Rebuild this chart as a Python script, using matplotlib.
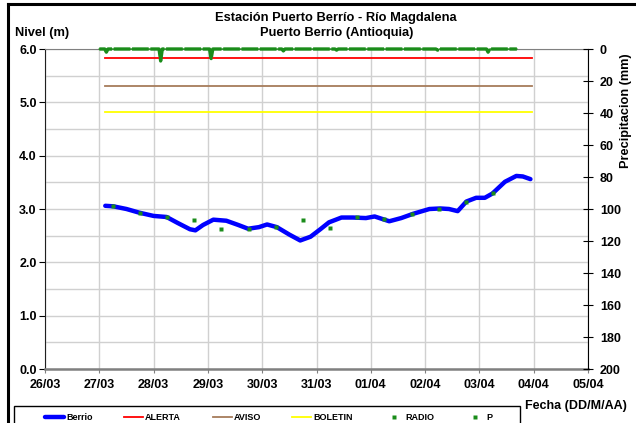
import numpy as np
import matplotlib
matplotlib.use("Agg")
import matplotlib.pyplot as plt
from matplotlib.lines import Line2D
from matplotlib.patches import Rectangle

plt.rcParams['font.family'] = ['Liberation Sans', 'DejaVu Sans']
plt.rcParams['font.weight'] = 'bold'

# dias contados desde 26/03
fechas = ['26/03', '27/03', '28/03', '29/03', '30/03', '31/03',
          '01/04', '02/04', '03/04', '04/04', '05/04']

berrio_t = [1.11, 1.26, 1.50, 1.74, 2.0, 2.24, 2.44, 2.67, 2.77, 2.91, 3.10,
            3.34, 3.56, 3.74, 3.94, 4.09, 4.27, 4.5, 4.70, 4.89, 5.07, 5.23,
            5.46, 5.67, 5.91, 6.07, 6.34, 6.56, 6.78, 7.08, 7.28, 7.44, 7.60,
            7.76, 7.94, 8.10, 8.24, 8.47, 8.68, 8.80, 8.94]
berrio_v = [3.06, 3.05, 3.0, 2.93, 2.87, 2.85, 2.74, 2.62, 2.60, 2.70, 2.80,
            2.78, 2.70, 2.63, 2.66, 2.71, 2.66, 2.52, 2.41, 2.48, 2.62, 2.75,
            2.84, 2.84, 2.83, 2.86, 2.77, 2.83, 2.91, 3.0, 3.01, 3.0, 2.96,
            3.14, 3.21, 3.21, 3.29, 3.51, 3.62, 3.61, 3.56]

radio_t = [1.25, 1.75, 2.25, 2.75, 3.25, 3.75, 4.25, 4.75, 5.25, 5.75,
           6.25, 6.75, 7.25, 7.75, 8.25]
radio_v = [3.05, 2.93, 2.85, 2.80, 2.62, 2.63, 2.66, 2.80, 2.65, 2.85,
           2.82, 2.90, 3.00, 3.13, 3.30]

umbral_t = [1.11, 8.97]
alerta = 5.83
aviso = 5.31
boletin = 4.81

p_t = [1.0, 1.10, 1.13, 1.16, 2.10, 2.13, 2.16, 3.03, 3.06, 3.09, 4.36,
       4.39, 4.42, 5.34, 5.37, 5.40, 7.20, 7.23, 7.26, 8.13, 8.16, 8.19, 8.69]
p_mm = [0, 0, 2, 0, 0, 7.5, 0, 0, 6, 0, 0, 1.2, 0, 0, 0.7, 0, 0, 0.7, 0,
        0, 2, 0, 0]

verde = '#1A8C1A'

fig = plt.figure(figsize=(6.36, 4.23), dpi=100)
ax = fig.add_axes([45/636, 1-369/423, (588-45)/636, (369-49)/423])

ax.set_xlim(0, 10)
ax.set_ylim(0, 6)
ax.set_xticks(range(len(fechas)))
ax.set_xticklabels(fechas)
ax.set_yticks(np.arange(0, 6.1, 1.0))
ax.set_yticklabels(['%.1f' % v for v in np.arange(0, 6.1, 1.0)])
ax.set_yticks(np.arange(0, 6.1, 0.5), minor=True)
ax.grid(True, which='both', color='#D0D0D0', lw=1)
ax.set_axisbelow(True)
ax.tick_params(axis='x', which='both', length=3, color='#808080', labelsize=9, pad=4)
ax.tick_params(axis='y', which='major', length=4, labelsize=9, pad=2)
ax.tick_params(axis='y', which='minor', length=0)
ax.spines['left'].set_color('#202020')
ax.spines['bottom'].set_color('#808080')
ax.spines['bottom'].set_linewidth(1.8)
ax.spines['top'].set_color('#808080')
ax.spines['right'].set_visible(False)

h_alerta, = ax.plot(umbral_t, [alerta]*2, color='#FF0000', lw=1.3)
h_aviso, = ax.plot(umbral_t, [aviso]*2, color='#A67C5B', lw=1.3)
h_boletin, = ax.plot(umbral_t, [boletin]*2, color='#FFFF00', lw=1.3)
h_berrio, = ax.plot(berrio_t, berrio_v, color='#0000FF', lw=3.2, solid_capstyle='round')
h_radio, = ax.plot(radio_t, radio_v, 's', color=verde, ms=2.2, mec='none')

ax2 = ax.twinx()
ax2.set_ylim(200, 0)
ax2.set_yticks(range(0, 201, 20))
ax2.tick_params(axis='y', direction='inout', length=7, labelsize=9, pad=5)
for s in ['left', 'top', 'bottom']:
    ax2.spines[s].set_visible(False)
ax2.spines['right'].set_color('black')
ax2.plot(p_t, p_mm, color=verde, lw=2.4, ls=(0, (5, 0.5)), clip_on=False)
ax2.plot(p_t, p_mm, color=verde, lw=1.0, clip_on=False)
h_p = Line2D([], [], ls='none', marker='s', color=verde, ms=2.2, mec='none')

fig.text(336/636, 1-18/423, 'Estación Puerto Berrío - Río Magdalena',
         ha='center', va='center', fontsize=9.3, fontweight='bold')
fig.text(337/636, 1-33/423, 'Puerto Berrio (Antioquia)',
         ha='center', va='center', fontsize=9.3, fontweight='bold')
fig.text(15/636, 1-33/423, 'Nivel (m)', ha='left', va='center',
         fontsize=9.3, fontweight='bold')
fig.text(626/636, 1-111/423, 'Precipitacion (mm)', ha='center', va='center',
         rotation=90, fontsize=9.2, fontweight='bold')
fig.text(525/636, 1-406/423, 'Fecha (DD/M/AA)', ha='left', va='center',
         fontsize=9, fontweight='bold')

# caja de la leyenda
fig.add_artist(Rectangle((14/636, -0.05), (520-14)/636, 0.05+1-406/423,
                         transform=fig.transFigure, fill=False,
                         edgecolor='black', lw=1.0))
leg = fig.legend([h_berrio, h_alerta, h_aviso, h_boletin, h_radio, h_p],
                 ['Berrio', 'ALERTA', 'AVISO', 'BOLETIN', 'RADIO', 'P'],
                 loc='upper left', ncol=6, mode='expand',
                 bbox_to_anchor=(40/636, 0, (498-40)/636, 1-408/423),
                 prop={'size': 6.5, 'weight': 'bold'}, frameon=False,
                 handlelength=2.1, handletextpad=0.2, borderaxespad=0,
                 borderpad=0.6, columnspacing=1.0)

# marco de la figura
fig.add_artist(Line2D([7.5/636, 7.5/636], [0, 1-4.5/423], color='black', lw=2.2))
fig.add_artist(Line2D([7.5/636, 1], [1-4.5/423, 1-4.5/423], color='black', lw=2.2))

fig.savefig('out.png', dpi=100)
